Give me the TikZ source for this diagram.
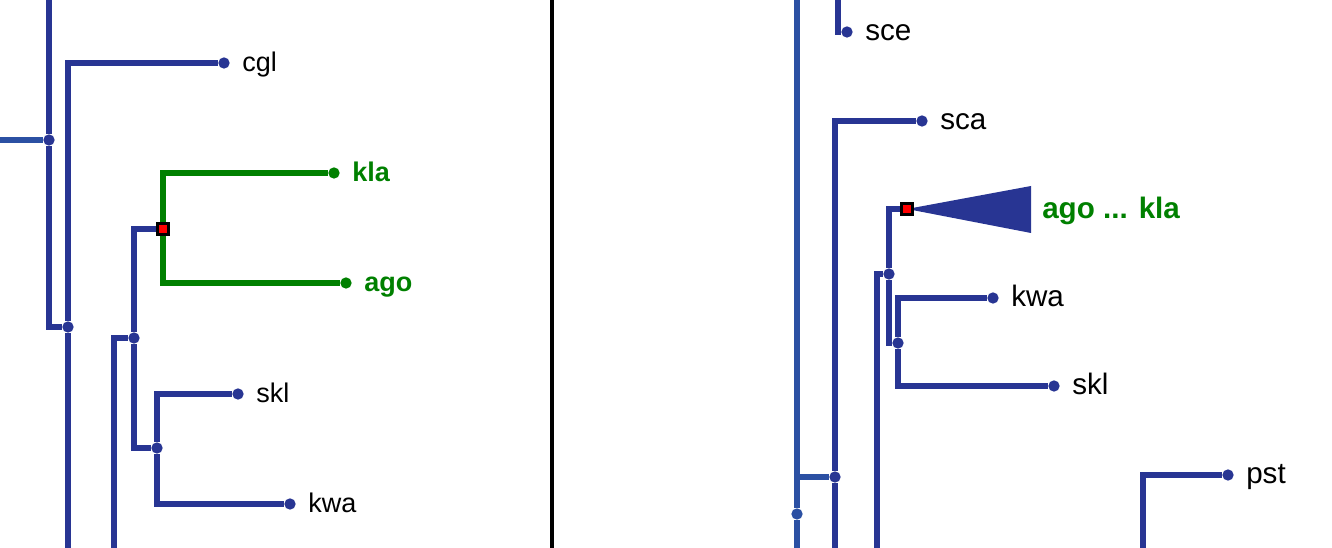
\documentclass[tikz,border=0pt]{standalone}
\usepackage{fontspec}
\setmainfont{Liberation Sans}
\usetikzlibrary{backgrounds}
\definecolor{treec}{HTML}{283593}
\definecolor{rootc}{HTML}{2B50A3}
\definecolor{selc}{HTML}{008000}
\definecolor{boxc}{HTML}{FF0000}
\tikzset{
  br/.style={draw=treec,line width=4.3pt},
  rbr/.style={br,draw=rootc},
  gbr/.style={br,draw=selc},
  tip/.style={circle,fill=treec,inner sep=0pt,minimum size=8.5pt},
  rtip/.style={tip,fill=rootc},
  gtip/.style={tip,fill=selc},
  selbox/.style={rectangle,draw=black,fill=boxc,line width=2.4pt,inner sep=0pt,minimum size=8.8pt},
  lbl/.style={font=\fontsize{20.25}{24}\selectfont,anchor=base west,inner sep=0pt},
  glbl/.style={lbl,font=\fontsize{20.25}{24}\selectfont\bfseries,text=selc},
  rlbl/.style={lbl,font=\fontsize{22.2}{26}\selectfont},
  grlbl/.style={lbl,font=\fontsize{22.2}{26}\selectfont\bfseries,text=selc},
}
\newcommand{\leaf}[5]{%
  \node[#4] (#1) at (#2) {};
  \node[#5] (#1-t) at ([xshift=13.5pt,yshift=-6.4pt]#1.center) {#3};}

\begin{document}
\begin{tikzpicture}[x=0.75pt,y=-0.75pt]
  \useasboundingbox (0,0) rectangle (1332,548);
  % left view
  \coordinate (lin) at (0,140);
  \coordinate (l0top) at (49,0);
  \coordinate (labot) at (68,548);
  \coordinate (lbfoot) at (114,548);
  \node[tip] (l0) at (49,140) {};
  \node[tip] (la) at (68,327) {};
  \node[tip] (lb) at (134,338) {};
  \node[tip] (lc) at (157,448) {};
  \leaf{cgl}{224,63}{cgl}{tip}{lbl}
  \leaf{kla}{334,173}{kla}{gtip}{glbl}
  \leaf{ago}{346,283}{ago}{gtip}{glbl}
  \leaf{skl}{238,394}{skl}{tip}{lbl}
  \leaf{kwa}{290,504}{kwa}{tip}{lbl}
  \node[selbox] (lsq) at (163,229) {};
  \begin{scope}[on background layer]
    \draw[rbr] (lin) -- (l0);
    \draw[br] (l0top) -- (l0) |- (la) -- (labot);
    \draw[br] (la) |- (cgl);
    \draw[br] (lbfoot) |- (lb);
    \draw[br] (lb) |- (lsq);
    \draw[br] (lb) |- (lc);
    \draw[gbr] (lsq) |- (kla);
    \draw[gbr] (lsq) |- (ago);
    \draw[br] (lc) |- (skl);
    \draw[br] (lc) |- (kwa);
  \end{scope}
  % divider
  \coordinate (dtop) at (552,0);
  \coordinate (dbot) at (552,548);
  \draw[line width=3pt] (dtop) -- (dbot);
  % right view
  \coordinate (ratop) at (797,0);
  \coordinate (rabot) at (797,548);
  \coordinate (rbbot) at (835,548);
  \coordinate (scetop) at (838,0);
  \coordinate (rcfoot) at (877,548);
  \coordinate (pfoot) at (1143,548);
  \coordinate (cla) at (1031,186);
  \coordinate (clb) at (1031,233);
  \node[rtip] (ra) at (797,514) {};
  \node[tip] (rb) at (835,477) {};
  \node[tip] (rc) at (889,274) {};
  \node[tip] (rd) at (898,343) {};
  \leaf{sce}{847,32}{sce}{tip}{rlbl}
  \leaf{sca}{922,121}{sca}{tip}{rlbl}
  \leaf{kwb}{993,298}{kwa}{tip}{rlbl}
  \leaf{skm}{1054,386}{skl}{tip}{rlbl}
  \leaf{pst}{1228,475}{pst}{tip}{rlbl}
  \node[gtip] (rsqg) at (907,209) {};
  \node[selbox] (rsq) at (907,209) {};
  \node[grlbl] (clade) at (1042,219) {ago ... kla};
  \begin{scope}[on background layer]
    \fill[treec] (rsq.center) -- (cla) -- (clb) -- cycle;
    \draw[rbr] (ratop) -- (ra) -- (rabot);
    \draw[rbr] (ra) |- (rb);
    \draw[br] (rb) -- (rbbot);
    \draw[br] (rb) |- (sca);
    \draw[br] (scetop) |- (sce);
    \draw[br] (rcfoot) |- (rc);
    \draw[br] (rc) |- (rsq);
    \draw[br] (rc) |- (rd);
    \draw[br] (rd) |- (kwb);
    \draw[br] (rd) |- (skm);
    \draw[br] (pfoot) |- (pst);
  \end{scope}
\end{tikzpicture}
\end{document}
